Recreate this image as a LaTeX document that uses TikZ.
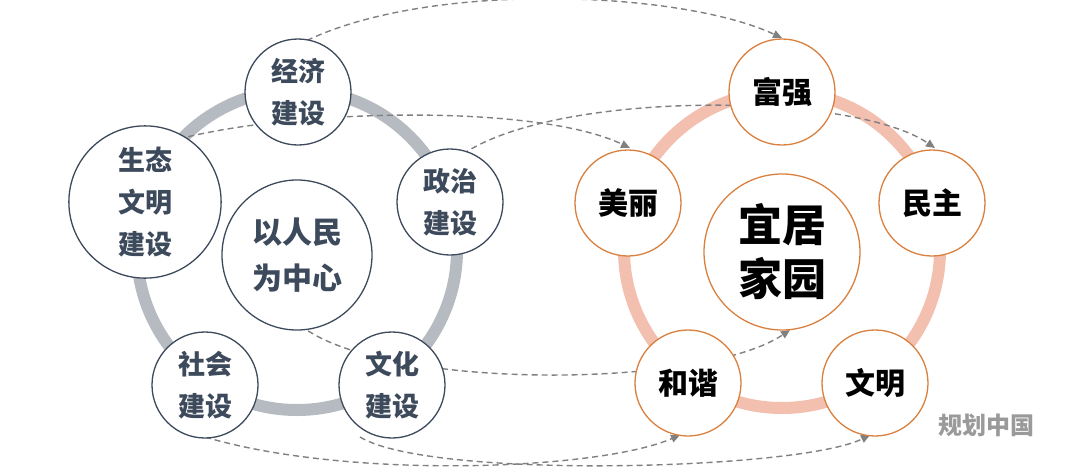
\documentclass[tikz,border=0pt]{standalone}
\usepackage{fontspec}
\setmainfont{Noto Sans CJK SC Black}
\usetikzlibrary{arrows.meta}
\definecolor{cpslate}{HTML}{3D4A5C}
\definecolor{cpgray}{HTML}{B6BAC1}
\definecolor{cporange}{HTML}{D9803F}
\definecolor{cppink}{HTML}{F3BFAE}
\definecolor{cpdash}{HTML}{808080}
\tikzset{
  leftnode/.style={circle,draw=cpslate,line width=1.3pt,fill=white,minimum size=106pt,inner sep=0pt,
    text=cpslate,font=\fontsize{27}{42}\selectfont,align=center},
  rightnode/.style={circle,draw=cporange,line width=1.3pt,fill=white,minimum size=106pt,inner sep=0pt,
    text=black,font=\fontsize{30}{40}\selectfont,align=center},
  link/.style={cpdash,line width=1.4pt,dash pattern=on 6pt off 4pt,-{Triangle[length=9pt,width=8pt]}}
}
\begin{document}
\begin{tikzpicture}[x=1pt,y=-1pt]
  \useasboundingbox (0,0) rectangle (1080,472);
  % rings
  \draw[cpgray,line width=12pt] (297,250) circle (160);
  \draw[cppink,line width=12pt] (782,250) circle (158);

  % dashed links (behind nodes)
  \draw[link] (298,45) .. controls (420,-20) and (680,-10) .. (782,38);
  \draw[link] (150,148) .. controls (250,110) and (530,100) .. (630,148);
  \draw[link] (455,160) .. controls (540,90) and (850,90) .. (935,148);
  \draw[link] (300,325) .. controls (380,390) and (700,390) .. (790,330);
  \draw[link] (205,437) .. controls (350,480) and (600,470) .. (680,435);
  \draw[link] (360,437) .. controls (430,480) and (800,470) .. (870,435);

  % left ring
  \node[leftnode,minimum size=150pt,font=\fontsize{30}{46}\selectfont] (renmin) at (297,255) {以人民\\为中心};
  \node[leftnode] (jingji) at (298,92) {经济\\建设};
  \node[leftnode] (zhengzhi) at (450,202) {政治\\建设};
  \node[leftnode] (wenhua) at (392,385) {文化\\建设};
  \node[leftnode] (shehui) at (205,385) {社会\\建设};
  \node[leftnode,text width=106pt] (shengtai) at (145,202) {生态\\文明\\建设};

  % right ring
  \node[rightnode,minimum size=156pt,font=\fontsize{44}{54}\selectfont] (yiju) at (782,252) {宜居\\家园};
  \node[rightnode] (fuqiang) at (782,92) {富强};
  \node[rightnode] (minzhu) at (932,203) {民主};
  \node[rightnode] (wenming) at (875,383) {文明};
  \node[rightnode] (hexie) at (688,383) {和谐};
  \node[rightnode] (meili) at (628,203) {美丽};

  \node[text=cpdash!80,font=\fontsize{24}{28}\selectfont,anchor=west] (mark) at (935,425) {规划中国};
\end{tikzpicture}
\end{document}
